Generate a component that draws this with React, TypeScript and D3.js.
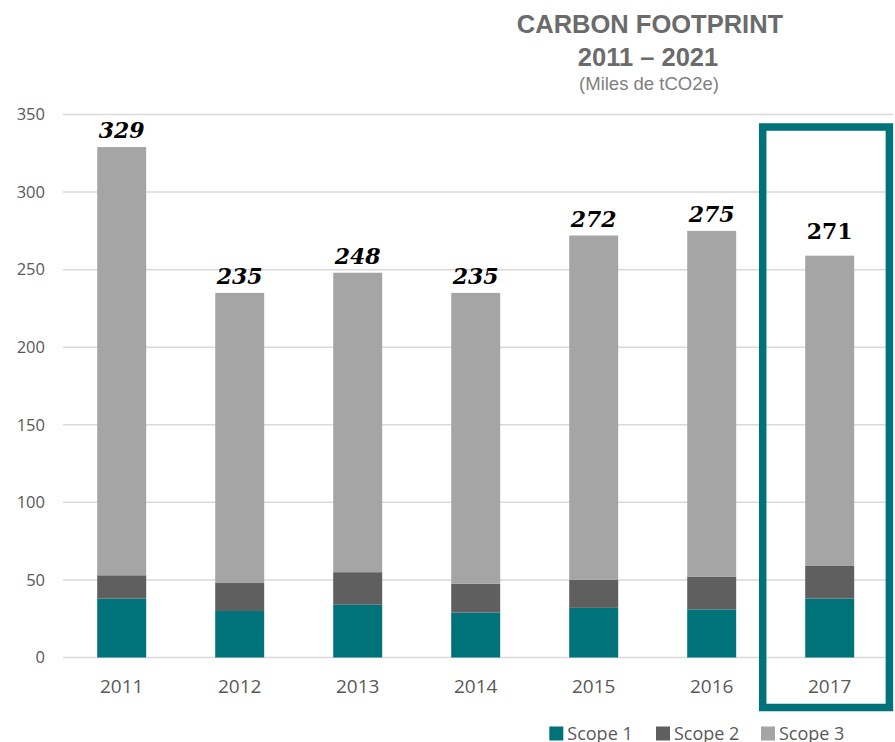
import React from "react";
import * as d3 from "d3";

const years = ["2011", "2012", "2013", "2014", "2015", "2016", "2017"];
const scope1 = [38, 30, 34, 29, 32, 31, 38];
const scope2 = [15, 18, 21, 18.5, 18, 21, 21];
const scope3 = [276, 187, 193, 187.5, 222, 223, 200];
const totalLabels = ["329", "235", "248", "235", "272", "275", "271"];
const yTicks = [0, 50, 100, 150, 200, 250, 300, 350];
const seriesNames = ["Scope 1", "Scope 2", "Scope 3"];
const seriesColors = ["#00727A", "#5F5F5F", "#A5A5A5"];
const highlightYear = "2017";

const W = 895;
const H = 742;

export default function App() {
  const x = d3
    .scaleBand<string>()
    .domain(years)
    .range([62.7, 888.7])
    .paddingInner(0.585)
    .paddingOuter(0.2925);
  const y = d3.scaleLinear().domain([0, 350]).range([657.5, 114.5]);

  const rows = years.map((yr, i) => ({
    year: yr,
    "Scope 1": scope1[i],
    "Scope 2": scope2[i],
    "Scope 3": scope3[i],
  }));
  const stack = d3.stack<any>().keys(seriesNames);
  const layers = stack(rows);
  const bw = x.bandwidth();

  const hx = (x(highlightYear) as number) + bw / 2;

  return (
    <div style={{ position: "absolute", left: 0, top: 0 }}>
      <svg width={W} height={H} style={{ display: "block", background: "#fff" }}>
        {/* gridlines */}
        {yTicks.map((t) => (
          <line
            key={"g" + t}
            x1={63}
            x2={893}
            y1={y(t)}
            y2={y(t)}
            stroke="#D9D9D9"
            strokeWidth={1.5}
          />
        ))}
        {yTicks.map((t) => (
          <text
            key={"t" + t}
            x={45}
            y={y(t)}
            dy="0.35em"
            textAnchor="end"
            fontFamily="'Open Sans', sans-serif"
            fontSize={16.5}
            fill="#595959"
          >
            {t}
          </text>
        ))}
        {/* bars */}
        {layers.map((layer, li) =>
          layer.map((d, i) => (
            <rect
              key={layer.key + i}
              x={x(years[i]) as number}
              y={y(d[1])}
              width={bw}
              height={y(d[0]) - y(d[1])}
              fill={seriesColors[li]}
            />
          ))
        )}
        {/* total labels */}
        {years.map((yr, i) => {
          const top = layers[layers.length - 1][i][1];
          const hl = yr === highlightYear;
          return (
            <text
              key={"l" + yr}
              x={(x(yr) as number) + bw / 2}
              y={y(top) - (hl ? 17 : 9)}
              textAnchor="middle"
              fontFamily="'DejaVu Serif', serif"
              fontWeight="bold"
              fontStyle={hl ? "normal" : "italic"}
              fontSize={22}
              fill="#000"
            >
              {totalLabels[i]}
            </text>
          );
        })}
        {/* x axis labels */}
        {years.map((yr) => (
          <text
            key={"x" + yr}
            x={(x(yr) as number) + bw / 2}
            y={692.7}
            textAnchor="middle"
            fontFamily="'Open Sans', sans-serif"
            fontSize={19}
            fill="#595959"
          >
            {yr}
          </text>
        ))}
        {/* highlight box */}
        <rect
          x={hx - 67}
          y={127}
          width={126.7}
          height={580.5}
          fill="none"
          stroke="#00727A"
          strokeWidth={7.5}
        />
        {/* title */}
        <text
          x={650}
          y={33}
          textAnchor="middle"
          fontFamily="'Liberation Sans', Arial, sans-serif"
          fontWeight="bold"
          fontSize={25.5}
          fill="#6B6B6B"
        >
          CARBON FOOTPRINT
        </text>
        <text
          x={648}
          y={66}
          textAnchor="middle"
          fontFamily="'Liberation Sans', Arial, sans-serif"
          fontWeight="bold"
          fontSize={25.5}
          fill="#6B6B6B"
        >
          2011 – 2021
        </text>
        <text
          x={649}
          y={90}
          textAnchor="middle"
          fontFamily="'Liberation Sans', Arial, sans-serif"
          fontSize={18.5}
          fill="#7F7F7F"
        >
          (Miles de tCO2e)
        </text>
        {/* legend */}
        {seriesNames.map((s, i) => {
          const lx = [549.3, 656, 761][i];
          return (
            <g key={"lg" + s}>
              <rect x={lx} y={726.5} width={14} height={14} fill={seriesColors[i]} />
              <text
                x={lx + 18}
                y={740}
                fontFamily="'Open Sans', sans-serif"
                fontSize={18}
                fill="#595959"
              >
                {s}
              </text>
            </g>
          );
        })}
      </svg>
    </div>
  );
}
